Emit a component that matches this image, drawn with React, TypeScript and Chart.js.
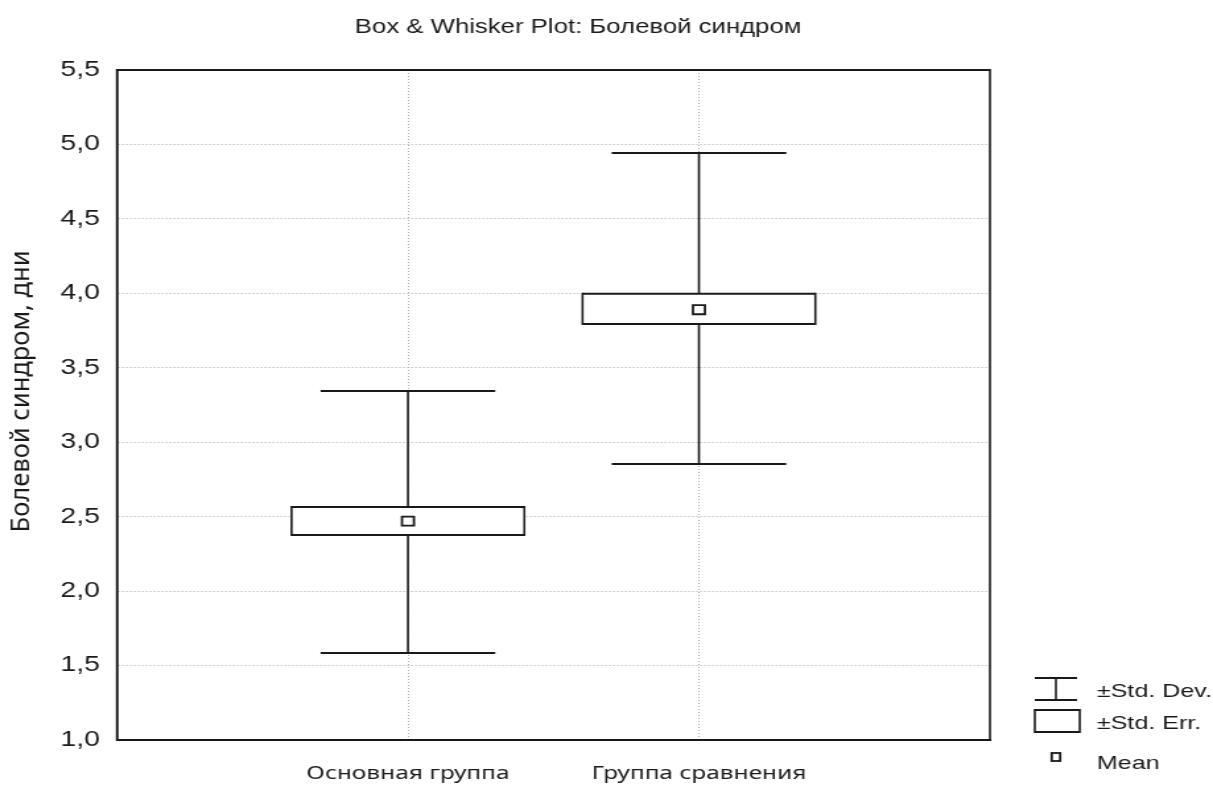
import React, { useEffect, useRef } from "react";
import { Chart, registerables } from "chart.js";

Chart.register(...registerables);

const categories = ["Основная группа", "Группа сравнения"];
const means = [2.47, 3.89];
const seLow = [2.377, 3.794];
const seHigh = [2.565, 3.998];
const sdLow = [1.585, 2.854];
const sdHigh = [3.344, 4.943];
const yTicks = [1.0, 1.5, 2.0, 2.5, 3.0, 3.5, 4.0, 4.5, 5.0, 5.5];
const legendLabels = ["±Std. Dev.", "±Std. Err.", "Mean"];
const titleText = "Box & Whisker Plot: Болевой синдром";
const yTitle = "Болевой синдром, дни";

// the picture is horizontally stretched: draw at a narrower internal width
const OUT_W = 1213;
const OUT_H = 786;
const INT_W = 919;
const SX = OUT_W / INT_W;

const BOX_HALF = 0.4;
const CAP_HALF = 0.3;
const INK = "#1a1a1a";
const ARIAL = "'Liberation Sans', Arial, sans-serif";
const SEGOE = "'Noto Sans', 'Open Sans', sans-serif";

const boxPlugin = {
  id: "boxWhisker",
  beforeDatasetsDraw(chart: any) {
    const { ctx, scales } = chart;
    const xs = scales.x;
    const ys = scales.y;
    ctx.save();
    ctx.strokeStyle = INK;
    categories.forEach((_, i) => {
      const xc = xs.getPixelForValue(i + 1);
      const capL = xs.getPixelForValue(i + 1 - CAP_HALF);
      const capR = xs.getPixelForValue(i + 1 + CAP_HALF);
      const yTop = ys.getPixelForValue(sdHigh[i]);
      const yBot = ys.getPixelForValue(sdLow[i]);
      ctx.lineWidth = 1.6;
      ctx.beginPath();
      ctx.moveTo(xc, yTop);
      ctx.lineTo(xc, yBot);
      ctx.stroke();
      ctx.lineWidth = 2;
      ctx.beginPath();
      ctx.moveTo(capL, yTop);
      ctx.lineTo(capR, yTop);
      ctx.moveTo(capL, yBot);
      ctx.lineTo(capR, yBot);
      ctx.stroke();
      const bL = xs.getPixelForValue(i + 1 - BOX_HALF);
      const bR = xs.getPixelForValue(i + 1 + BOX_HALF);
      const bT = ys.getPixelForValue(seHigh[i]);
      const bB = ys.getPixelForValue(seLow[i]);
      ctx.fillStyle = "#ffffff";
      ctx.fillRect(bL, bT, bR - bL, bB - bT);
      ctx.lineWidth = 2;
      ctx.beginPath();
      ctx.moveTo(bL, bT);
      ctx.lineTo(bR, bT);
      ctx.moveTo(bL, bB);
      ctx.lineTo(bR, bB);
      ctx.stroke();
      ctx.lineWidth = 1.6;
      ctx.beginPath();
      ctx.moveTo(bL, bT - 1);
      ctx.lineTo(bL, bB + 1);
      ctx.moveTo(bR, bT - 1);
      ctx.lineTo(bR, bB + 1);
      ctx.stroke();
    });
    ctx.restore();
  },
  afterDraw(chart: any) {
    const { ctx, chartArea } = chart;
    ctx.save();
    ctx.strokeStyle = INK;
    // frame
    ctx.lineWidth = 2;
    ctx.beginPath();
    ctx.moveTo(chartArea.left, chartArea.top);
    ctx.lineTo(chartArea.right, chartArea.top);
    ctx.moveTo(chartArea.left, chartArea.bottom);
    ctx.lineTo(chartArea.right, chartArea.bottom);
    ctx.stroke();
    ctx.lineWidth = 1.6;
    ctx.beginPath();
    ctx.moveTo(chartArea.left, chartArea.top - 1);
    ctx.lineTo(chartArea.left, chartArea.bottom + 1);
    ctx.moveTo(chartArea.right, chartArea.top - 1);
    ctx.lineTo(chartArea.right, chartArea.bottom + 1);
    ctx.stroke();

    // title
    ctx.fillStyle = INK;
    ctx.font = "19.5px " + ARIAL;
    ctx.textAlign = "center";
    ctx.textBaseline = "alphabetic";
    ctx.fillText(titleText, 438, 33);

    // y axis title (rotated; compensate the horizontal stretch of the glyphs)
    ctx.save();
    ctx.translate(16.7, 391.5);
    ctx.rotate(-Math.PI / 2);
    ctx.scale(1, 1 / SX);
    ctx.font = "25.5px " + SEGOE;
    ctx.textAlign = "center";
    ctx.textBaseline = "middle";
    ctx.fillText(yTitle, 0, 0);
    ctx.restore();

    // legend
    const lx = 784;
    const cx = 800;
    ctx.lineWidth = 2;
    ctx.beginPath();
    ctx.moveTo(lx, 678);
    ctx.lineTo(lx + 32, 678);
    ctx.moveTo(lx, 700);
    ctx.lineTo(lx + 32, 700);
    ctx.stroke();
    ctx.lineWidth = 1.6;
    ctx.beginPath();
    ctx.moveTo(cx, 678);
    ctx.lineTo(cx, 700);
    ctx.stroke();
    ctx.lineWidth = 2;
    ctx.beginPath();
    ctx.moveTo(lx, 710);
    ctx.lineTo(lx + 34, 710);
    ctx.moveTo(lx, 732);
    ctx.lineTo(lx + 34, 732);
    ctx.stroke();
    ctx.lineWidth = 1.6;
    ctx.beginPath();
    ctx.moveTo(lx, 709);
    ctx.lineTo(lx, 733);
    ctx.moveTo(lx + 34, 709);
    ctx.lineTo(lx + 34, 733);
    ctx.stroke();
    ctx.fillStyle = "#fff";
    ctx.lineWidth = 1.8;
    ctx.fillRect(cx - 3.2, 753, 6.4, 8);
    ctx.strokeRect(cx - 3.2, 753, 6.4, 8);
    ctx.fillStyle = INK;
    ctx.font = "19px " + ARIAL;
    ctx.textAlign = "left";
    ctx.textBaseline = "alphabetic";
    ctx.fillText(legendLabels[0], 831, 697);
    ctx.fillText(legendLabels[1], 831, 729);
    ctx.fillText(legendLabels[2], 831, 769);
    ctx.restore();
  },
};

export default function App() {
  const ref = useRef<HTMLCanvasElement | null>(null);
  useEffect(() => {
    if (!ref.current) return;
    const chart = new Chart(ref.current, {
      type: "scatter",
      data: {
        datasets: [
          {
            label: "Mean",
            data: means.map((m, i) => ({ x: i + 1, y: m })),
            pointStyle: "rect",
            pointRadius: 6.4,
            pointBorderWidth: 1.8,
            pointBackgroundColor: "#ffffff",
            pointBorderColor: INK,
          },
        ],
      },
      plugins: [boxPlugin],
      options: {
        animation: false,
        responsive: false,
        maintainAspectRatio: false,
        devicePixelRatio: 1,
        layout: { padding: { left: 0, right: 169, top: 70, bottom: 0 } },
        plugins: {
          legend: { display: false },
          tooltip: { enabled: false },
          title: { display: false },
        },
        scales: {
          x: {
            type: "linear",
            min: 0,
            max: 3,
            afterBuildTicks: (scale: any) => {
              scale.ticks = categories.map((_, i) => ({ value: i + 1 }));
            },
            afterFit: (scale: any) => {
              scale.height = 46;
            },
            ticks: {
              callback: (v: any) => categories[Number(v) - 1] ?? "",
              color: INK,
              font: { family: SEGOE, size: 18.5 },
              padding: 23,
              maxRotation: 0,
              autoSkip: false,
            },
            grid: {
              drawTicks: false,
              color: "#a8a8a8",
              lineWidth: 1,
            },
            border: { display: true, color: INK, width: 2, dash: [1, 2] },
          },
          y: {
            min: 1,
            max: 5.5,
            afterBuildTicks: (scale: any) => {
              scale.ticks = yTicks.map((v) => ({ value: v }));
            },
            afterFit: (scale: any) => {
              scale.width = 88.6;
            },
            ticks: {
              callback: (v: any) => Number(v).toFixed(1).replace(".", ","),
              color: INK,
              font: { family: ARIAL, size: 21.5 },
              padding: 13,
            },
            grid: {
              drawTicks: false,
              color: "#a8a8a8",
              lineWidth: 1,
            },
            border: { display: true, color: INK, width: 1.6, dash: [1, 2] },
            title: { display: false },
          },
        },
      } as any,
    });
    return () => chart.destroy();
  }, []);
  return (
    <div
      style={{
        position: "fixed",
        left: 0,
        top: 0,
        width: OUT_W,
        height: OUT_H,
        overflow: "hidden",
        background: "#fff",
      }}
    >
      <canvas
        ref={ref}
        width={INT_W}
        height={OUT_H}
        style={{
          width: INT_W,
          height: OUT_H,
          display: "block",
          transform: `scaleX(${SX})`,
          transformOrigin: "0 0",
        }}
      />
    </div>
  );
}
